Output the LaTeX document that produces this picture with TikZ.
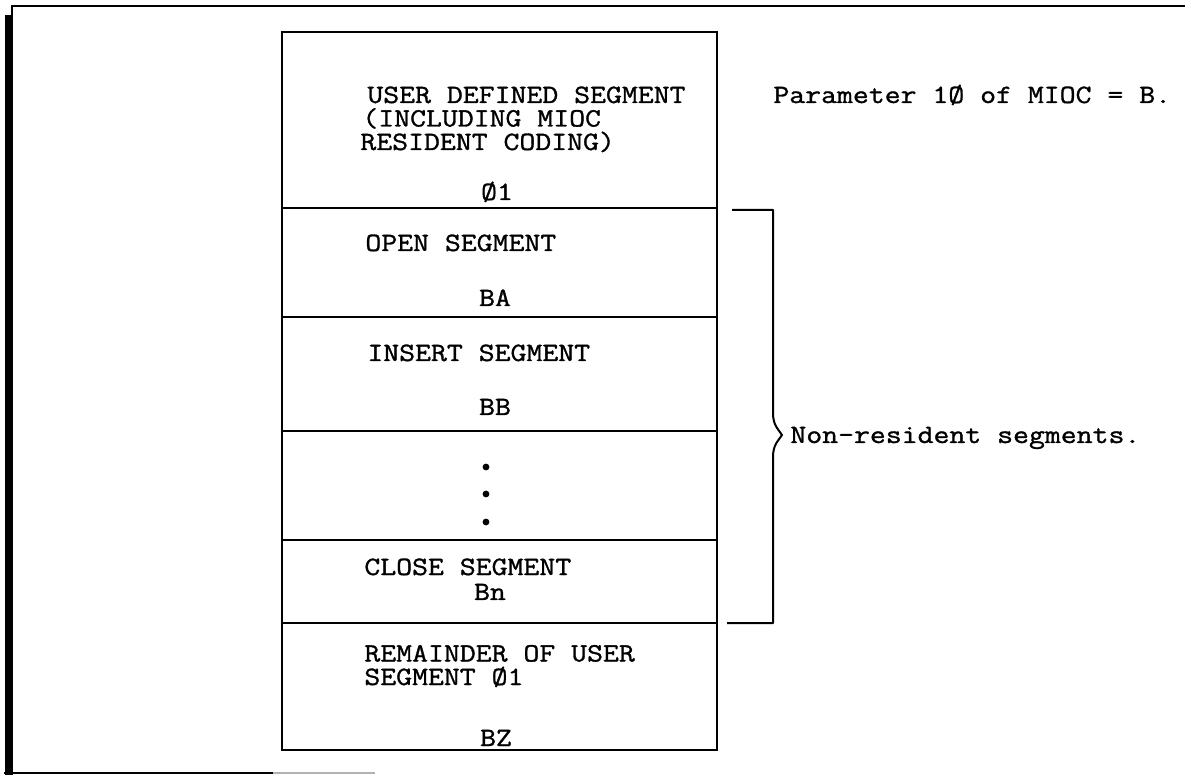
\documentclass[tikz,border=0pt]{standalone}
\usepackage{fontspec}
\usetikzlibrary{positioning,calc}
\newfontfamily\typew{Latin Modern Mono}[FakeStretch=1.17, FakeBold=1.2]

\begin{document}
\begin{tikzpicture}[x=0.5pt, y=-0.5pt,
  seg/.style={draw, line width=1pt, minimum width=217.5pt, inner sep=0pt, outer sep=0pt},
  txt/.style={font=\typew\fontsize{13.2}{11.75}\selectfont, inner sep=0pt, align=left, anchor=base west},
  code/.style={font=\typew\fontsize{13.2}{11.75}\selectfont, inner sep=0pt, anchor=base},
  brk/.style={line width=1pt, line join=round}]
\useasboundingbox (0,0) rectangle (1185,775);
% page frame
\draw[line width=1pt] (12,773) |- (1185,6);
\draw[line width=4pt] (8.5,15) -- (8.5,775);
\draw[line width=1pt] (4,773) -- (273,773);
\draw[line width=1pt, gray!60] (273,773) -- (375,773);
% segment stack
\node[seg, minimum height=88pt, anchor=north west] (usr) at (282,32) {};
\node[seg, minimum height=54.5pt, below=0pt of usr] (opn) {};
\node[seg, minimum height=57pt, below=0pt of opn] (ins) {};
\node[seg, minimum height=54.5pt, below=0pt of ins] (gap) {};
\node[seg, minimum height=41.5pt, below=0pt of gap] (cls) {};
\node[seg, minimum height=63.5pt, below=0pt of cls] (rem) {};
\node[txt] (usrtxt) at (360,150) {\hspace{3.5pt}USER DEFINED SEGMENT\\\hspace{1pt}(INCLUDING MIOC\\RESIDENT CODING)};
\node[code] (usrid) at (497,200) {Ø1};
\node[txt] (opntxt) at (365,251) {OPEN SEGMENT};
\node[code] (opnid) at (495,306) {BA};
\node[txt] (instxt) at (367,361) {INSERT SEGMENT};
\node[code] (insid) at (495,415) {BB};
\foreach \y in {467,494,522} \fill (486,\y) circle (3.4);
\node[txt] (clstxt) at (364,575) {CLOSE SEGMENT};
\node[code] (clsid) at (490,600) {Bn};
\node[txt] (remtxt) at (364,685) {REMAINDER OF USER\\SEGMENT Ø1};
\node[code] (remid) at (496,746) {BZ};
% notes
\node[txt] (param) at (773,103) {Parameter 1Ø of MIOC = B.};
\coordinate (brtop) at ($(opn.north east)+(15,2)$);
\coordinate (brbot) at ($(cls.south east)+(10,0)$);
\coordinate (tip) at (782,435);
\draw[brk] (brtop) -- (773,210) -- (773,413) .. controls (773,426) and (779,430) .. (tip)
  .. controls (779,440) and (773,444) .. (773,457) -- (773,623) -- (brbot);
\node[txt] (nonres) at (790,443) {Non-resident segments.};
\end{tikzpicture}
\end{document}
